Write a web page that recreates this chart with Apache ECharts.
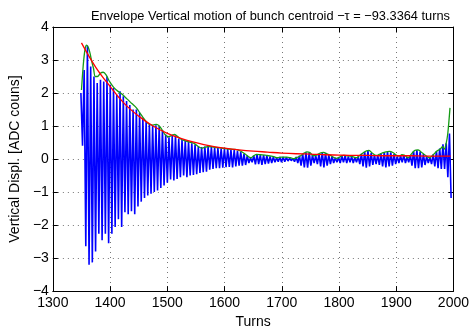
<!DOCTYPE html>
<html>
<head>
<meta charset="utf-8">
<script src="https://cdn.jsdelivr.net/npm/echarts/dist/echarts.min.js"></script>
<style>html,body{margin:0;padding:0;background:#fff}#c{width:472px;height:334px}</style>
</head>
<body>
<div id="c"></div>
<script>
// ---- data ----
const titleText = 'Envelope Vertical motion of bunch centroid \u2212\u03c4 = \u221293.3364 turns';
const xTicks = [1300, 1400, 1500, 1600, 1700, 1800, 1900, 2000];
const yTicks = [-4, -3, -2, -1, 0, 1, 2, 3, 4];

// blue signal: alternating peak / trough samples
const blueStart = 1349;      // turn of first sample
const blueHalfPeriod = 2.85; // turns between a peak and the next trough
const bluePeaks = [2.0, 2.7, 3.43, 2.8, 2.5, 2.3, 2.4, 2.35, 2.5, 2.25,
  2.15, 1.95, 2.05, 1.9, 1.76, 1.64, 1.5, 1.5, 1.4, 1.25,
  1.15, 1.05, 1.0, 1.02, 0.98, 0.88, 0.74, 0.66, 0.7, 0.72,
  0.62, 0.58, 0.55, 0.52, 0.48, 0.44, 0.38, 0.36, 0.38, 0.38,
  0.36, 0.34, 0.33, 0.32, 0.3, 0.3, 0.28, 0.27, 0.25, 0.22,
  0.16, 0.1, 0.04, 0.1, 0.14, 0.12, 0.12, 0.1, 0.08, 0.06,
  0.04, 0.06, 0.06, 0.05, 0.03, 0.02, 0.06, 0.1, 0.16, 0.2,
  0.2, 0.12, 0.1, 0.16, 0.2, 0.18, 0.12, 0.08, 0.04, 0.05,
  0.1, 0.1, 0.08, 0.08, 0.05, 0.08, 0.16, 0.22, 0.25, 0.18,
  0.12, 0.12, 0.16, 0.2, 0.22, 0.2, 0.15, 0.08, 0.1, 0.12,
  0.06, 0.12, 0.24, 0.27, 0.22, 0.15, 0.08, 0.05, 0.14, 0.24,
  0.32, 0.45, 0.48, 0.77];
const blueTroughs = [0.4, -2.64, -3.2, -3.13, -2.8, -2.26, -2.46, -2.26, -2.55, -2.26,
  -2.06, -1.82, -2.06, -1.61, -1.67, -1.58, -1.67, -1.44, -1.29, -1.18,
  -1.1, -1.05, -1.0, -0.95, -0.88, -0.8, -0.72, -0.62, -0.65, -0.6,
  -0.55, -0.5, -0.55, -0.5, -0.48, -0.46, -0.42, -0.4, -0.38, -0.32,
  -0.3, -0.28, -0.28, -0.26, -0.25, -0.24, -0.25, -0.22, -0.2, -0.2,
  -0.18, -0.12, -0.1, -0.16, -0.15, -0.18, -0.15, -0.14, -0.12, -0.1,
  -0.08, -0.1, -0.08, -0.06, -0.05, -0.08, -0.12, -0.2, -0.25, -0.26,
  -0.2, -0.12, -0.15, -0.22, -0.25, -0.2, -0.15, -0.12, -0.1, -0.12,
  -0.1, -0.12, -0.1, -0.12, -0.1, -0.15, -0.22, -0.26, -0.22, -0.18,
  -0.15, -0.18, -0.22, -0.25, -0.22, -0.2, -0.15, -0.12, -0.1, -0.12,
  -0.1, -0.2, -0.28, -0.28, -0.25, -0.18, -0.12, -0.15, -0.22, -0.28,
  -0.3, -0.3, -0.55, -1.18];

// green envelope
const greenTurns = [1350, 1353, 1356, 1359, 1362, 1365, 1368, 1371, 1374, 1378,
  1383, 1388, 1393, 1398, 1403, 1408, 1414, 1420, 1426, 1431,
  1438, 1446, 1452, 1458, 1464, 1469, 1475, 1481, 1486, 1491,
  1496, 1502, 1508, 1513, 1518, 1524, 1530, 1536, 1542, 1548,
  1554, 1560, 1566, 1572, 1578, 1586, 1594, 1600, 1610, 1618,
  1624, 1630, 1636, 1641, 1646, 1651, 1656, 1663, 1671, 1677,
  1682, 1688, 1692, 1700, 1709, 1715, 1721, 1727, 1733, 1739,
  1744, 1749, 1755, 1761, 1767, 1773, 1779, 1785, 1791, 1796,
  1802, 1808, 1814, 1820, 1826, 1831, 1837, 1843, 1848, 1852,
  1857, 1862, 1866, 1870, 1876, 1882, 1888, 1895, 1900, 1905,
  1910, 1914, 1921, 1926, 1932, 1938, 1943, 1947, 1952, 1958,
  1963, 1967, 1971, 1975, 1979, 1981, 1984, 1987, 1990, 1994];
const greenVals = [2.09, 2.82, 3.3, 3.45, 3.38, 3.2, 2.95, 2.75, 2.5, 2.5,
  2.6, 2.63, 2.55, 2.38, 2.25, 2.14, 2.05, 1.98, 1.88, 1.8,
  1.68, 1.55, 1.4, 1.25, 1.12, 1.05, 1.03, 1.05, 1.0, 0.88,
  0.74, 0.68, 0.72, 0.75, 0.68, 0.6, 0.56, 0.53, 0.5, 0.46,
  0.38, 0.33, 0.36, 0.38, 0.37, 0.35, 0.33, 0.32, 0.3, 0.29,
  0.27, 0.22, 0.15, 0.08, 0.04, 0.1, 0.14, 0.13, 0.12, 0.1,
  0.09, 0.06, 0.04, 0.06, 0.06, 0.04, 0.01, 0.05, 0.1, 0.18,
  0.22, 0.2, 0.1, 0.12, 0.18, 0.2, 0.16, 0.11, 0.05, 0.02,
  0.07, 0.11, 0.1, 0.09, 0.06, 0.04, 0.12, 0.2, 0.25, 0.26,
  0.2, 0.13, 0.11, 0.14, 0.19, 0.22, 0.23, 0.19, 0.12, 0.09,
  0.13, 0.12, 0.04, 0.14, 0.26, 0.28, 0.22, 0.17, 0.1, 0.04,
  0.1, 0.17, 0.24, 0.28, 0.34, 0.38, 0.3, 0.45, 0.75, 1.55];

// red exponential fit
const redTurns = [1350, 1375, 1400, 1425, 1450, 1475, 1500, 1525, 1550, 1575,
  1600, 1625, 1650, 1675, 1700, 1725, 1750, 1775, 1800, 1825,
  1850, 1875, 1900, 1925, 1950, 1975, 1995];
const redVals = [3.52, 2.78, 2.2, 1.68, 1.3, 1.0, 0.78, 0.62, 0.5, 0.4,
  0.33, 0.28, 0.24, 0.21, 0.18, 0.16, 0.15, 0.13, 0.12, 0.11,
  0.11, 0.1, 0.1, 0.1, 0.09, 0.09, 0.09];

// ---- build series data ----
const blueData = [];
for (let k = 0; k < bluePeaks.length; k++) {
  blueData.push([blueStart + 2 * k * blueHalfPeriod, bluePeaks[k]]);
  if (k < blueTroughs.length) blueData.push([blueStart + (2 * k + 1) * blueHalfPeriod, blueTroughs[k]]);
}
const greenData = greenTurns.map((t, i) => [t, greenVals[i]]);
const redData = redTurns.map((t, i) => [t, redVals[i]]);

const FONT = 'Liberation Sans, Arial, Helvetica, sans-serif';
const minus = v => (v < 0 ? '\u2212' + Math.abs(v) : String(v));
const gridLine = { show: true, lineStyle: { color: '#777', type: [1, 4], width: 1 } };
const axLine = { show: true, onZero: false, lineStyle: { color: '#000', width: 1 } };

const chart = echarts.init(document.getElementById('c'), null, { renderer: 'canvas' });
chart.setOption({
  animation: false,
  backgroundColor: '#fff',
  title: {
    text: titleText, left: 86, top: 5,
    textStyle: { fontFamily: FONT, fontSize: 12.8, fontWeight: 'normal', color: '#000' }
  },
  grid: { left: 51, right: 18, top: 27, bottom: 34, containLabel: false },
  xAxis: [
    { type: 'value', min: xTicks[0], max: xTicks[xTicks.length - 1], interval: 100, position: 'bottom',
      axisLine: axLine, axisTick: { inside: true, length: 5, lineStyle: { color: '#000' } },
      axisLabel: { fontFamily: FONT, fontSize: 14, color: '#000', margin: 5, formatter: v => String(v) },
      splitLine: gridLine,
      name: 'Turns', nameLocation: 'middle', nameGap: 21,
      nameTextStyle: { fontFamily: FONT, fontSize: 14, color: '#000' } },
    { type: 'value', min: xTicks[0], max: xTicks[xTicks.length - 1], interval: 100, position: 'top',
      axisLine: axLine, axisTick: { inside: true, length: 5, lineStyle: { color: '#000' } },
      axisLabel: { show: false }, splitLine: { show: false } }
  ],
  yAxis: [
    { type: 'value', min: yTicks[0], max: yTicks[yTicks.length - 1], interval: 1, position: 'left',
      axisLine: axLine, axisTick: { inside: true, length: 5, lineStyle: { color: '#000' } },
      axisLabel: { fontFamily: FONT, fontSize: 14, color: '#000', margin: 4, formatter: minus },
      splitLine: gridLine,
      name: 'Vertical Displ. [ADC couns]', nameLocation: 'middle', nameGap: 26,
      nameTextStyle: { fontFamily: FONT, fontSize: 14, color: '#000' } },
    { type: 'value', min: yTicks[0], max: yTicks[yTicks.length - 1], interval: 1, position: 'right',
      axisLine: axLine, axisTick: { inside: true, length: 5, lineStyle: { color: '#000' } },
      axisLabel: { show: false }, splitLine: { show: false } }
  ],
  series: [
    { type: 'line', data: blueData, showSymbol: false, symbol: 'none', clip: true,
      lineStyle: { color: '#0000ff', width: 1.6 }, z: 2 },
    { type: 'line', data: greenData, showSymbol: false, symbol: 'none', smooth: 0.3, clip: true,
      lineStyle: { color: '#159b15', width: 1.3 }, z: 3 },
    { type: 'line', data: redData, showSymbol: false, symbol: 'none', smooth: 0.4, clip: true,
      lineStyle: { color: '#ff0000', width: 1.3 }, z: 4 }
  ]
});
</script>
</body>
</html>
